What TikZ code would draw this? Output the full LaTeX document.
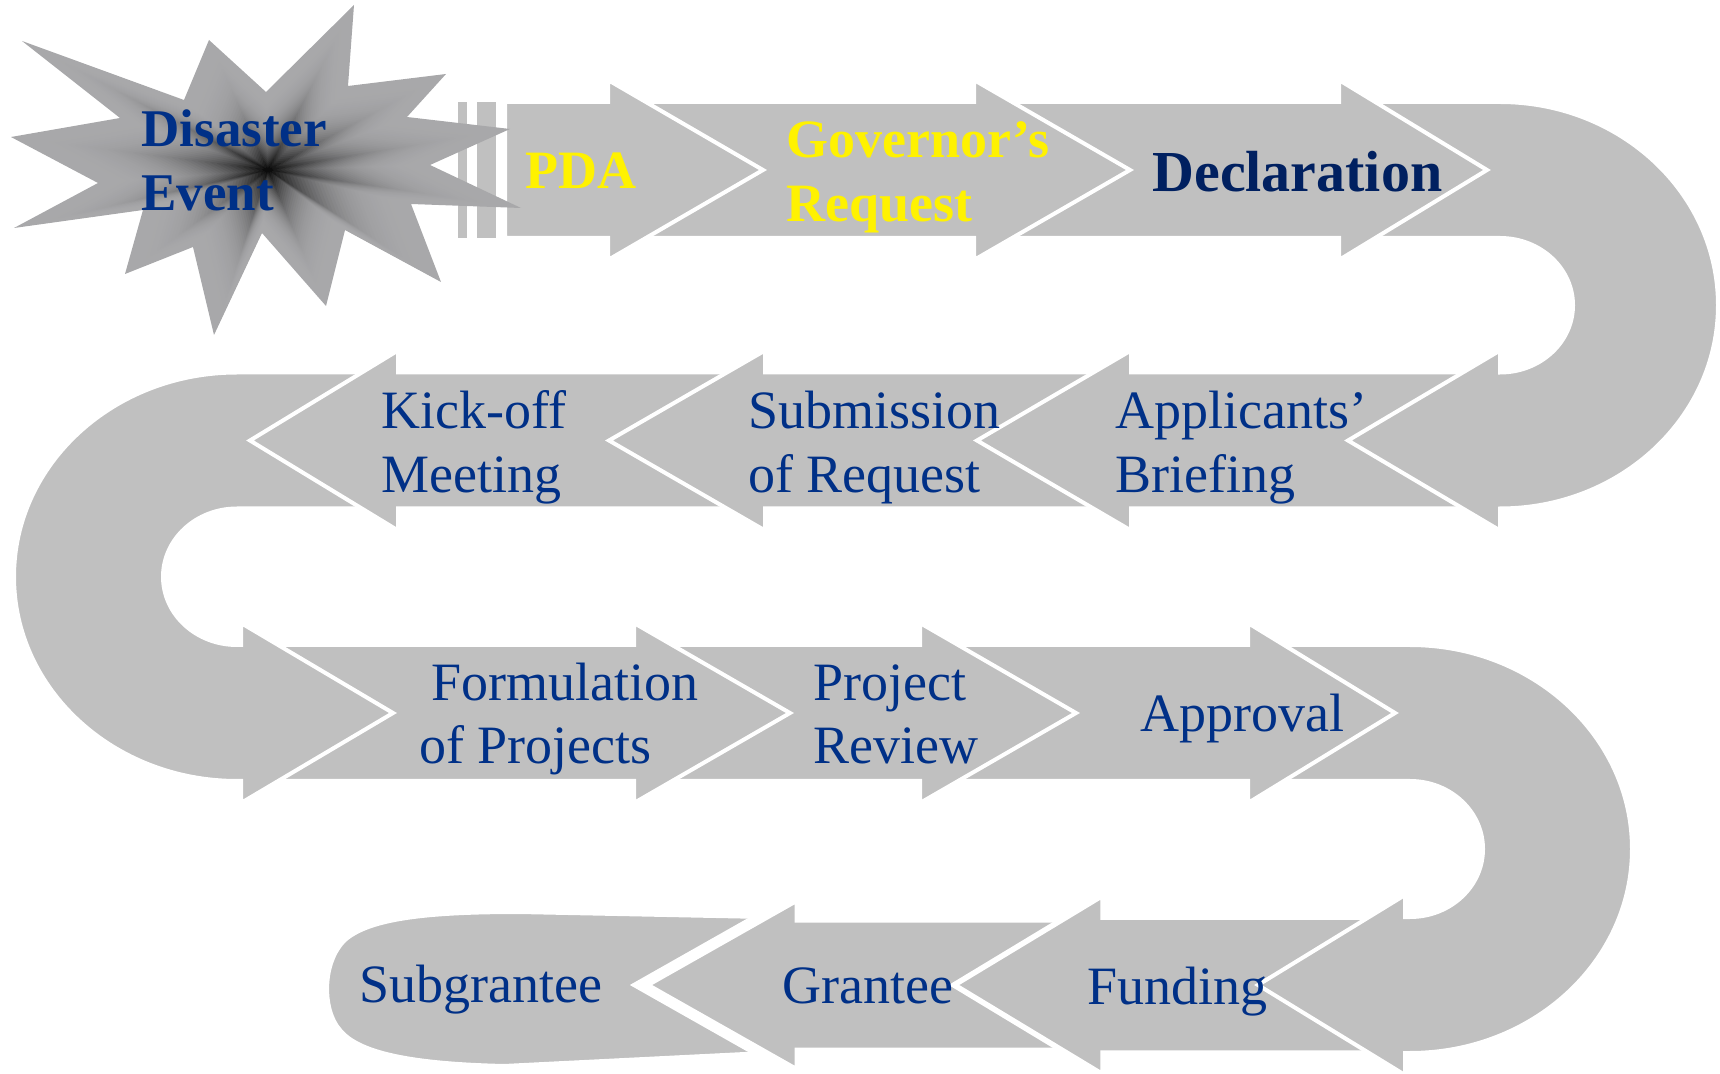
\documentclass[tikz,border=0pt]{standalone}
\usepackage{fontspec}
\setmainfont{Liberation Serif}

\definecolor{star rim}{RGB}{168,168,170}

\begin{document}
\begin{tikzpicture}[x=0.5pt,y=-0.5pt]
\definecolor{band fill}{RGB}{192,192,192}
\definecolor{navy text}{RGB}{0,48,135}
\definecolor{deep navy}{RGB}{0,32,96}
\tikzset{
     band/.style={fill=band fill, draw=white, line width=2pt},
     bar/.style={fill=band fill},
     heading/.style={font=\bfseries\fontsize{27}{32}\selectfont, anchor=base west, inner sep=0pt, align=left},
     stage/.style={font=\fontsize{27}{32}\selectfont, text=navy text, anchor=base west, inner sep=0pt, align=left}}

\useasboundingbox (0,0) rectangle (1720,1074);

% Bottom row, drawn first so the earlier steps lie on top
\path[band] (765,917) -- (519,912) .. controls (430,912) and (370,918) .. (345,940)
  .. controls (322,962) and (322,1010) .. (340,1030)
  .. controls (360,1055) and (420,1064) .. (504,1066) -- (765,1053) -- cycle;
\path[band, line width=5.5pt] (1090,917) -- (800,917) -- (800,895) -- (641,985) -- (800,1075) -- (800,1053) -- (1090,1053) -- cycle;
\path[band, line width=2.75pt] (1395,917) -- (1103,917) -- (1103,895) -- (954,985) -- (1103,1075) -- (1103,1053) -- (1395,1053) -- cycle;

% Lower right turn
\path[band] (1260,645) -- (1410,645) .. controls (1532.6,645) and (1632,736.3) .. (1632,849)
  .. controls (1632,961.7) and (1532.6,1053) .. (1410,1053) -- (1405,1053)
  -- (1405,1075) -- (1258,985) -- (1405,895) -- (1405,917) -- (1410,917)
  .. controls (1450.3,917) and (1483,886.6) .. (1483,849)
  .. controls (1483,811.4) and (1450.3,781) .. (1410,781) -- (1260,781) -- cycle;

% Third row
\path[band] (935,645) -- (1248,645) -- (1248,623) -- (1395,713) -- (1248,803) -- (1248,781) -- (935,781) -- cycle;
\path[band] (645,645) -- (920,645) -- (920,623) -- (1076,713) -- (920,803) -- (920,781) -- (645,781) -- cycle;
\path[band] (255,645) -- (634,645) -- (634,623) -- (790,713) -- (634,803) -- (634,781) -- (255,781) -- cycle;

% Left turn
\path[band] (385,372.5) -- (237,372.5) .. controls (113.8,372.5) and (14,463.95) .. (14,576.75)
  .. controls (14,689.55) and (113.8,781) .. (237,781) -- (241,781)
  -- (241,803) -- (393,713) -- (241,623) -- (241,645) -- (237,645)
  .. controls (196.1,645) and (163,614.45) .. (163,576.75)
  .. controls (163,539.05) and (196.1,508.5) .. (237,508.5) -- (385,508.5) -- cycle;

% Second row
\path[band] (750,372.5) -- (398,372.5) -- (398,350.5) -- (250,440.5) -- (398,530.5) -- (398,508.5) -- (750,508.5) -- cycle;
\path[band] (1115,372.5) -- (765,372.5) -- (765,350.5) -- (609,440.5) -- (765,530.5) -- (765,508.5) -- (1115,508.5) -- cycle;
\path[band] (1485,372.5) -- (1131,372.5) -- (1131,350.5) -- (977,440.5) -- (1131,530.5) -- (1131,508.5) -- (1485,508.5) -- cycle;

% Upper right turn
\path[band] (1350,102) -- (1500,102) .. controls (1620.4,102) and (1718,192.95) .. (1718,305.25)
  .. controls (1718,417.55) and (1620.4,508.5) .. (1500,508.5)
  -- (1500,530.5) -- (1348,440.5) -- (1500,350.5) -- (1500,372.5)
  .. controls (1540.3,372.5) and (1573,342.35) .. (1573,305.25)
  .. controls (1573,268.15) and (1540.3,238) .. (1500,238) -- (1350,238) -- cycle;

% Top row
\path[band] (990,102) -- (1339,102) -- (1339,80) -- (1487,170) -- (1339,260) -- (1339,238) -- (990,238) -- cycle;
\path[band] (620,102) -- (974,102) -- (974,80) -- (1130,170) -- (974,260) -- (974,238) -- (620,238) -- cycle;
\path[band] (505,102) -- (608,102) -- (608,80) -- (763,170) -- (608,260) -- (608,238) -- (505,238) -- cycle;
\path[bar] (458,102) rectangle (467,238);
\path[bar] (477,102) rectangle (496,238);

% The burst: shrinking copies, darker towards the centre
\foreach \s in {1,0.975,...,0.02}{
  \pgfmathsetmacro\tone{100*(1-\s)^3}
  \fill[black!\tone!star rim, shift={(268,170)}, scale=\s, shift={(-268,-170)}]
    (11,137) -- (120,118) -- (22,41) -- (184,100) -- (209,40) -- (266,92)
    -- (354,5) -- (348,86) -- (446,74) -- (407,117) -- (510,129) -- (430,165)
    -- (521,208) -- (411,204) -- (441,282) -- (345,230) -- (326,306) -- (262,233)
    -- (214,335) -- (193,247) -- (125,274) -- (143,210) -- (14,228) -- (98,183) -- cycle;
}

% The labels
\node (disaster) [heading, text=navy text, font=\bfseries\fontsize{26.5}{32}\selectfont] at (141,211) {Disaster\\Event};
\node (pda) [heading, text=yellow] at (525,189) {PDA};
\node (governor) [heading, text=yellow] at (786,222) {Governor’s\\Request};
\node (declaration) [heading, text=deep navy, font=\bfseries\fontsize{29}{34}\selectfont] at (1152,192) {Declaration};

\node (applicants) [stage] at (1115,493) {Applicants’\\Briefing};
\node (submission) [stage] at (748,493) {Submission\\of Request};
\node (kickoff) [stage] at (381,493) {Kick-off\\Meeting};

\node (formulation) [stage] at (419,764) {\hspace*{6pt}Formulation\\of Projects};
\node (review) [stage] at (813,764) {Project\\Review};
\node (approval) [stage] at (1140,732) {Approval};

\node (funding) [stage] at (1087,1004) {Funding};
\node (grantee) [stage] at (782,1003) {Grantee};
\node (subgrantee) [stage] at (359,1002) {Subgrantee};
\end{tikzpicture}
\end{document}
